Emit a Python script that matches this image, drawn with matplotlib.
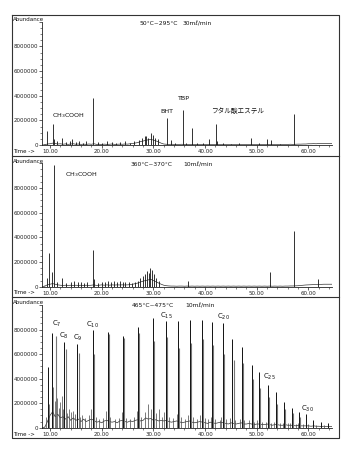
import numpy as np
import matplotlib.pyplot as plt
from matplotlib.ticker import MultipleLocator, FuncFormatter, FormatStrFormatter
from matplotlib.lines import Line2D

plt.rcParams['font.family'] = ['DejaVu Sans', 'Noto Sans CJK JP']

# retention time grid for the baseline (min)
base_t = np.arange(9.0, 65.0, 0.5)

# ---- 50-295 C, 30 ml/min  (abundance in units of 1e6)
p1_base = [0.02, 0.08, 0.1, 0.15, 0.12, 0.08, 0.1, 0.06, 0.09, 0.05,
           0.08, 0.1, 0.06, 0.08, 0.05, 0.07, 0.05, 0.08, 0.06, 0.1,
           0.05, 0.06, 0.04, 0.07, 0.05, 0.06, 0.08, 0.05, 0.06, 0.07,
           0.06, 0.08, 0.07, 0.1, 0.12, 0.16, 0.2, 0.28, 0.32, 0.38,
           0.42, 0.45, 0.4, 0.33, 0.25, 0.15, 0.08, 0.06, 0.05, 0.06,
           0.05, 0.04, 0.05, 0.06, 0.04, 0.05, 0.04, 0.05, 0.04, 0.05,
           0.04, 0.05, 0.04, 0.05, 0.04, 0.05, 0.04, 0.05, 0.04, 0.05,
           0.04, 0.05, 0.04, 0.05, 0.04, 0.05, 0.04, 0.05, 0.04, 0.05,
           0.04, 0.05, 0.04, 0.05, 0.04, 0.05, 0.04, 0.05, 0.04, 0.05,
           0.04, 0.05, 0.04, 0.05, 0.05, 0.06, 0.05, 0.06, 0.07, 0.07,
           0.08, 0.08, 0.1, 0.1, 0.11, 0.1, 0.12, 0.11, 0.12, 0.12,
           0.12, 0.12]
p1_peak_t = [9.5, 10.5, 10.8, 11.4, 12.3,
             13.1, 13.8, 14.3, 15.0, 15.6,
             16.3, 17.0, 18.4, 19.2, 20.1,
             21.0, 21.9, 22.7, 23.6, 24.5,
             25.4, 26.3, 27.2, 27.8, 28.3,
             28.6, 29.0, 29.5, 29.9, 30.3,
             30.8, 32.6, 33.4, 34.2, 35.65,
             36.4, 37.4, 38.5, 39.6, 40.8,
             42.05, 42.4, 43.5, 45.0, 46.5,
             48.8, 50.5, 51.9, 52.7, 54.5,
             57.25]
p1_peak_h = [1.15, 1.7, 0.45, 0.3, 0.6,
             0.25, 0.3, 0.5, 0.25, 0.35,
             0.2, 0.3, 3.85, 0.25, 0.2,
             0.3, 0.25, 0.2, 0.25, 0.3,
             0.2, 0.3, 0.4, 0.55, 0.7,
             0.75, 0.6, 0.95, 0.8, 0.6,
             0.45, 2.2, 0.4, 0.2, 2.85,
             0.2, 1.4, 0.15, 0.15, 0.45,
             1.7, 0.35, 0.15, 0.12, 0.15,
             0.6, 0.15, 0.45, 0.4, 0.12,
             2.5]

# ---- 360-370 C, 10 ml/min
p2_base = [0.05, 0.15, 0.2, 0.25, 0.2, 0.15, 0.12, 0.1, 0.12, 0.1,
           0.12, 0.1, 0.12, 0.1, 0.12, 0.1, 0.12, 0.1, 0.12, 0.15,
           0.1, 0.12, 0.15, 0.12, 0.15, 0.12, 0.15, 0.13, 0.15, 0.14,
           0.15, 0.14, 0.15, 0.17, 0.2, 0.25, 0.3, 0.38, 0.45, 0.5,
           0.55, 0.6, 0.5, 0.4, 0.3, 0.2, 0.12, 0.08, 0.06, 0.05,
           0.05, 0.04, 0.05, 0.05, 0.04, 0.05, 0.04, 0.05, 0.04, 0.05,
           0.04, 0.05, 0.04, 0.05, 0.04, 0.05, 0.04, 0.05, 0.04, 0.05,
           0.04, 0.05, 0.04, 0.05, 0.04, 0.05, 0.04, 0.05, 0.04, 0.05,
           0.04, 0.05, 0.04, 0.05, 0.04, 0.05, 0.04, 0.05, 0.04, 0.05,
           0.04, 0.05, 0.04, 0.05, 0.05, 0.06, 0.06, 0.07, 0.08, 0.1,
           0.12, 0.14, 0.15, 0.16, 0.17, 0.18, 0.18, 0.19, 0.2, 0.2,
           0.2, 0.2]
p2_peak_t = [9.45, 9.85, 10.45, 10.85, 11.3,
             12.3, 13.0, 14.0, 14.6, 15.5,
             16.0, 16.5, 17.2, 18.25, 18.45,
             19.3, 20.0, 20.7, 21.2, 21.8,
             22.3, 22.9, 23.5, 24.1, 24.6,
             25.2, 25.8, 26.4, 27.0, 27.4,
             27.9, 28.3, 28.7, 29.1, 29.4,
             29.8, 30.1, 30.5, 31.0, 36.75,
             52.55, 57.25, 61.8]
p2_peak_h = [0.7, 2.7, 1.2, 9.9, 0.4,
             0.7, 0.3, 0.4, 0.45, 0.35,
             0.4, 0.3, 0.35, 3.0, 0.6,
             0.3, 0.35, 0.4, 0.45, 0.35,
             0.5, 0.4, 0.45, 0.35, 0.4,
             0.35, 0.3, 0.4, 0.5, 0.7,
             0.9, 1.0, 1.25, 1.1, 1.55,
             1.35, 1.0, 0.7, 0.5, 0.45,
             1.2, 4.5, 0.6]

# ---- 465-475 C, 10 ml/min
p3_base = [0.05, 0.5, 1.0, 1.3, 0.9, 1.1, 0.8, 0.9, 0.7, 0.9,
           0.6, 0.8, 0.6, 0.7, 0.5, 0.7, 0.5, 0.6, 0.7, 0.6,
           0.45, 0.5, 0.4, 0.55, 0.6, 0.5, 0.45, 0.5, 0.4, 0.55,
           0.6, 0.5, 0.45, 0.55, 0.5, 0.6, 0.65, 0.55, 0.6, 0.8,
           0.7, 0.75, 0.6, 0.65, 0.55, 0.6, 0.55, 0.6, 0.5, 0.45,
           0.5, 0.55, 0.5, 0.4, 0.45, 0.5, 0.55, 0.45, 0.4, 0.45,
           0.5, 0.45, 0.4, 0.35, 0.45, 0.4, 0.35, 0.4, 0.45, 0.4,
           0.35, 0.3, 0.4, 0.35, 0.3, 0.35, 0.4, 0.3, 0.3, 0.35,
           0.3, 0.25, 0.3, 0.3, 0.25, 0.25, 0.3, 0.25, 0.2, 0.25,
           0.25, 0.2, 0.2, 0.25, 0.2, 0.2, 0.2, 0.15, 0.2, 0.15,
           0.15, 0.15, 0.15, 0.12, 0.15, 0.12, 0.12, 0.1, 0.12, 0.1,
           0.1, 0.1]
# 1-alkene peaks (first of each doublet)
p3_ene_t = [9.67, 10.33, 12.77, 15.3, 18.25,
            21.2, 24.2, 27.1, 29.9, 32.4,
            34.8, 37.1, 39.35, 41.4, 43.4,
            45.3, 47.1, 49.0, 50.5, 52.2,
            53.8, 55.3, 56.75, 58.2, 59.5,
            60.9, 62.4, 63.7]
p3_ene_h = [4.95, 7.7, 7.0, 6.8, 8.0,
            7.8, 7.5, 8.2, 8.9, 8.7,
            8.7, 8.8, 8.8, 8.6, 8.5,
            7.2, 6.6, 5.1, 4.5, 3.5,
            2.9, 2.1, 1.6, 1.25, 1.1,
            0.6, 0.45, 0.35]
# n-alkane peaks (second of each doublet)
p3_ane_t = [11.1, 13.0, 15.55, 18.5, 21.35,
            24.4, 27.3, 30.1, 32.6, 35.0,
            37.3, 39.55, 41.6, 43.6, 45.5,
            47.3, 49.2, 50.7, 52.4, 54.0,
            55.5, 56.95, 58.4]
p3_ane_h = [7.45, 6.4, 6.1, 6.0, 7.6,
            7.3, 7.7, 7.05, 7.4, 6.5,
            6.9, 7.2, 6.7, 6.0, 5.5,
            5.3, 4.0, 3.2, 2.5, 1.9,
            1.5, 1.2, 0.9]
# dienes and other minor products
p3_minor_t = [9.3, 9.9, 10.6, 10.9, 11.4, 11.7, 12.0, 12.3, 12.5, 13.3,
              13.7, 14.0, 14.4, 14.8, 15.8, 16.2, 16.8, 17.5, 17.9, 18.8,
              19.5, 20.2, 20.9, 21.6, 22.5, 23.4, 23.9, 24.7, 25.5, 26.3,
              26.8, 27.6, 28.4, 28.9, 29.6, 30.5, 31.0, 31.7, 32.1, 33.0,
              33.8, 34.5, 35.4, 36.2, 36.7, 37.6, 38.5, 39.0, 39.9, 40.6,
              41.1, 42.0, 42.9, 43.1, 44.0, 44.9, 45.8, 46.7, 47.6, 48.5,
              49.5, 50.1, 51.0, 51.8, 52.8, 53.4, 54.5, 55.0, 56.0, 56.5,
              57.6, 58.0, 59.0, 59.9, 61.5, 63.0]
p3_minor_h = [0.9, 1.9, 3.3, 2.2, 2.4, 1.6, 2.1, 2.6, 1.5, 1.2,
              1.5, 1.3, 1.4, 1.1, 0.9, 1.0, 0.8, 1.0, 1.5, 0.9,
              0.7, 0.8, 1.4, 0.9, 0.7, 0.8, 1.3, 0.8, 0.7, 0.9,
              1.4, 0.9, 1.3, 1.9, 1.5, 1.2, 1.5, 0.9, 1.3, 0.9,
              0.8, 1.1, 0.9, 0.7, 1.0, 0.9, 0.7, 1.0, 0.8, 0.7,
              0.9, 0.7, 0.6, 0.9, 0.7, 0.8, 0.6, 0.7, 0.6, 0.6,
              0.5, 0.6, 0.5, 0.5, 0.4, 0.5, 0.4, 0.4, 0.35, 0.4,
              0.3, 0.35, 0.3, 0.3, 0.25, 0.2]

carbon_labels = ['7', '8', '9', '10', '15', '20', '25', '30']

SCALE = 1e6
W, H = 350, 454


def fx(x):
    return x / W


def fy(y):
    return 1 - y / H


fig = plt.figure(figsize=(W / 100, H / 100), dpi=100)

# axes: (top of y axis, zero line) in pixels
rows = [(21.7, 145.0), (163.3, 286.7), (305.0, 427.7)]
axes = []
for top, zero in rows:
    ax = fig.add_axes([fx(42), fy(zero), fx(332) - fx(42), (zero - top) / H])
    ax.set_xlim(8.45, 64.55)
    ax.set_ylim(0, 10e6)
    for s in ['top', 'right']:
        ax.spines[s].set_visible(False)
    for s in ['left', 'bottom']:
        ax.spines[s].set_linewidth(0.6)
        ax.spines[s].set_color('#222')
    ax.xaxis.set_major_locator(MultipleLocator(10))
    ax.xaxis.set_minor_locator(MultipleLocator(2))
    ax.xaxis.set_major_formatter(FormatStrFormatter('%.2f'))
    ax.yaxis.set_major_locator(MultipleLocator(2e6))
    ax.yaxis.set_minor_locator(MultipleLocator(0.5e6))
    ax.yaxis.set_major_formatter(FuncFormatter(lambda v, p: '%d' % v if v < 9e6 else ''))
    ax.tick_params(which='major', length=2, width=0.5, pad=1, labelsize=4, colors='#222')
    ax.tick_params(which='minor', length=1.2, width=0.4, colors='#222')
    ax.patch.set_alpha(0)
    axes.append(ax)


def trace(ax, base, peak_t, peak_h, color='#111', lw=0.6):
    ax.plot(base_t, np.array(base) * SCALE, color='#333', lw=0.5)
    ax.plot([8.45, base_t[0]], [0, base[0] * SCALE], color='#333', lw=0.5)
    ax.vlines(peak_t, 0, np.array(peak_h) * SCALE, color=color, lw=lw)


ax1, ax2, ax3 = axes
trace(ax1, p1_base, p1_peak_t, p1_peak_h)
trace(ax2, p2_base, p2_peak_t, p2_peak_h)
trace(ax3, p3_base, p3_minor_t, p3_minor_h, color='#444', lw=0.5)
ax3.vlines(p3_ane_t, 0, np.array(p3_ane_h) * SCALE, color='#777', lw=0.8)
ax3.vlines(p3_ene_t, 0, np.array(p3_ene_h) * SCALE, color='#111', lw=0.7)

tc = '#111'
fs = 4.6
hs = 4.3
# panel headings
ax1.text(27.4, 9.85e6, '50°C~295°C', fontsize=hs, color=tc, va='center')
ax1.text(35.6, 9.85e6, '30mℓ/min', fontsize=hs, color=tc, va='center')
ax2.text(25.5, 9.9e6, '360°C~370°C', fontsize=hs, color=tc, va='center')
ax2.text(35.8, 9.9e6, '10mℓ/min', fontsize=hs, color=tc, va='center')
ax3.text(25.9, 9.95e6, '465°C~475°C', fontsize=hs, color=tc, va='center')
ax3.text(36.1, 9.95e6, '10mℓ/min', fontsize=hs, color=tc, va='center')

# compound labels
ax1.text(10.4, 2.4e6, 'CH$_3$COOH', fontsize=fs, color=tc, va='center')
ax1.text(31.3, 2.7e6, 'BHT', fontsize=fs, color=tc, va='center')
ax1.text(34.6, 3.8e6, 'TBP', fontsize=fs, color=tc, va='center')
ax1.text(41.1, 2.75e6, 'フタル酸エステル', fontsize=4.8, color=tc, va='center',
         family=['Noto Sans CJK JP', 'DejaVu Sans'])
ax2.text(12.9, 9.1e6, 'CH$_3$COOH', fontsize=fs, color=tc, va='center')

c_pos = [(11.25, 8.5e6), (12.6, 7.5e6), (15.35, 7.3e6), (18.3, 8.4e6),
         (32.45, 9.1e6), (43.5, 9.0e6), (52.4, 4.15e6), (59.85, 1.5e6)]
for n, (x, y) in zip(carbon_labels, c_pos):
    ax3.text(x, y, 'C$_{%s}$' % n, fontsize=5, color=tc, ha='center', va='center')

# "Abundance" and "Time ->" captions per panel
for (top, zero) in rows:
    fig.text(fx(12.5), fy(top - 2), 'Abundance', fontsize=4, color=tc, va='center')
    fig.text(fx(13), fy(zero + 6.3), 'Time ->', fontsize=4, color=tc, va='center')

# outer frame with separators
frame_kw = dict(color='#333', lw=0.8, transform=fig.transFigure)
fig.add_artist(Line2D([fx(12), fx(339), fx(339), fx(12), fx(12)],
                      [fy(15), fy(15), fy(438), fy(438), fy(15)], **frame_kw))
for y in [156, 297]:
    fig.add_artist(Line2D([fx(12), fx(339)], [fy(y), fy(y)], **frame_kw))

fig.savefig('out.png', dpi=100)
